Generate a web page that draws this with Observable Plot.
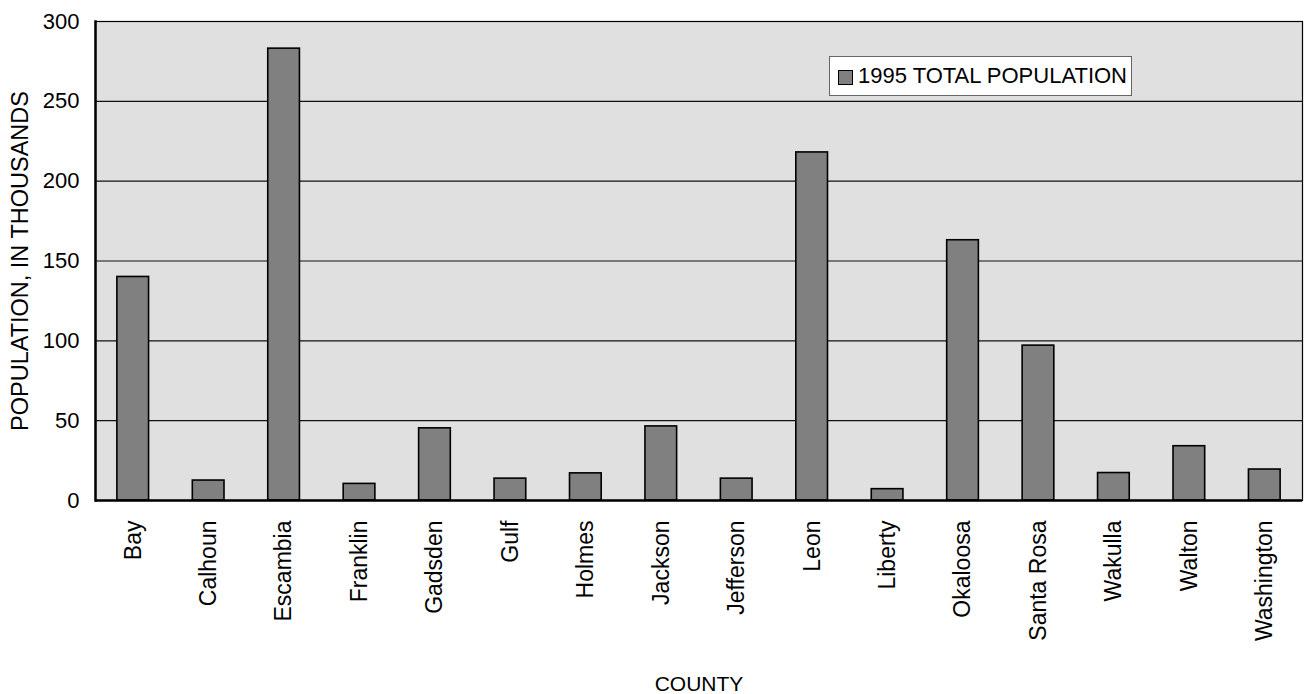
<!DOCTYPE html>
<html>
<head>
<meta charset="utf-8">
<script src="https://cdn.jsdelivr.net/npm/d3@7"></script>
<script src="https://cdn.jsdelivr.net/npm/@observablehq/plot@0.6"></script>
<style>
  html, body { margin: 0; padding: 0; background: #fff; }
  #wrap { position: relative; width: 1305px; height: 694px; font-family: "Liberation Sans", Arial, sans-serif; }
  #legend { position: absolute; left: 829px; top: 56px; width: 301px; height: 38px; background: #fff; border: 1px solid #666;
            box-sizing: content-box; display: flex; align-items: center; font-size: 22px; color: #000; white-space: nowrap; }
  #legend .sw { width: 13px; height: 13px; background: #808080; border: 1px solid #000; margin-left: 8px; margin-right: 5px; margin-top: 2px; flex: none; }
</style>
</head>
<body>
<div id="wrap">
  <div id="chart"></div>
  <div id="legend"><span class="sw"></span><span id="legendText"></span></div>
</div>
<script>
const counties = ["Bay", "Calhoun", "Escambia", "Franklin", "Gadsden", "Gulf", "Holmes", "Jackson", "Jefferson", "Leon", "Liberty", "Okaloosa", "Santa Rosa", "Wakulla", "Walton", "Washington"];
const population1995 = [140, 12.5, 283, 10.4, 45.2, 13.7, 17, 46.4, 13.7, 218, 7.1, 163, 97, 17.2, 34, 19.4];
const yTicks = [0, 50, 100, 150, 200, 250, 300];
const gridValues = [50, 100, 150, 200, 250];
const seriesName = "1995 TOTAL POPULATION";
const yTitle = "POPULATION, IN THOUSANDS";
const xTitle = "COUNTY";

const data = counties.map((c, i) => ({county: c, value: population1995[i]}));
document.getElementById("legendText").textContent = seriesName;

const chart = Plot.plot({
  width: 1305,
  height: 694,
  marginLeft: 95,
  marginRight: 3,
  marginTop: 21,
  marginBottom: 194,
  style: {fontFamily: "'Liberation Sans', Arial, sans-serif", fontSize: "22px", color: "#000", background: "#fff"},
  x: {domain: counties, paddingInner: 0.58, paddingOuter: 0.29, round: false, label: null},
  y: {domain: [0, 300], label: null},
  marks: [
    Plot.frame({fill: "#e0e0e0", stroke: null}),
    Plot.ruleY(gridValues, {stroke: "#111", strokeWidth: 1.2}),
    Plot.barY(data, {x: "county", y: "value", fill: "#808080", stroke: "#000", strokeWidth: 1.6}),
    Plot.frame({stroke: "#000", strokeWidth: 1.2}),
    Plot.frame({anchor: "left", stroke: "#000", strokeWidth: 2.5}),
    Plot.ruleY([0], {stroke: "#000", strokeWidth: 2.5}),
    Plot.axisY({ticks: yTicks, tickSize: 0, tickPadding: 16, fontSize: 22, label: null}),
    Plot.axisY({ticks: [], tickSize: 0, fontSize: 23.5, label: yTitle, labelAnchor: "center", labelOffset: 84, labelArrow: "none"}),
    Plot.axisX({tickSize: 0, tickPadding: 20, tickRotate: -90, fontSize: 23, label: null}),
    Plot.axisX({tickSize: 0, ticks: [], label: xTitle, labelAnchor: "center", labelOffset: 190, labelArrow: "none", fontSize: 21})
  ]
});
document.getElementById("chart").appendChild(chart);
</script>
</body>
</html>
